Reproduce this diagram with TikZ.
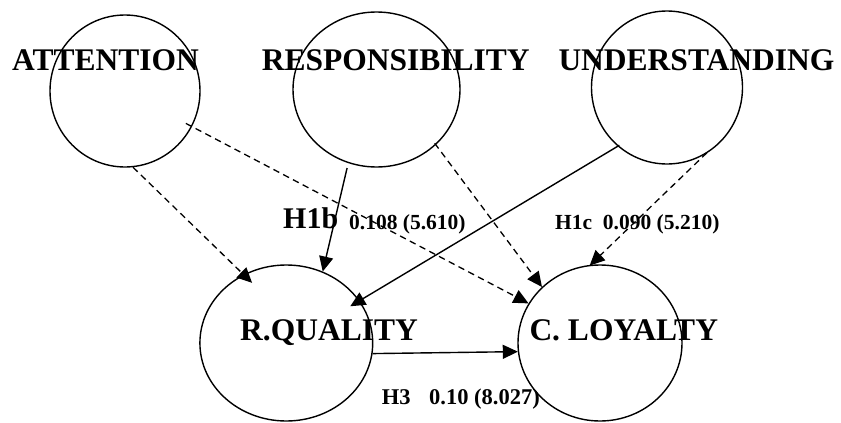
\documentclass[tikz,border=0pt]{standalone}
\usepackage{fontspec}
\setmainfont{Liberation Serif}
\usetikzlibrary{shapes.geometric,arrows.meta}
\begin{document}
\begin{tikzpicture}[x=1pt,y=-1pt,
  construct/.style={draw, ellipse, line width=1.4pt, inner sep=0pt},
  bigtext/.style={anchor=base west, inner sep=0pt, font=\fontsize{31.5}{36}\selectfont\bfseries},
  smalltext/.style={anchor=base west, inner sep=0pt, font=\fontsize{21.5}{25}\selectfont\bfseries},
  solidarrow/.style={line width=1.4pt, -{Triangle[length=15pt,width=14pt]}},
  dasharrow/.style={line width=1.3pt, dash pattern=on 6.5pt off 4.5pt, -{Triangle[length=15pt,width=14pt]}}
]
\useasboundingbox (0,0) rectangle (841,423);

% constructs
\node[construct, minimum width=150pt, minimum height=152pt] (att) at (125,91) {};
\node[construct, minimum width=167pt, minimum height=155pt] (resp) at (376.5,89.5) {};
\node[construct, minimum width=151pt, minimum height=153pt] (und) at (667,87.5) {};
\node[construct, minimum width=172.8pt, minimum height=156pt] (rq) at (286.3,343) {};
\node[construct, minimum width=164pt, minimum height=156pt] (cl) at (600,343) {};

% names
\node[bigtext] (tatt) at (12,70) {ATTENTION};
\node[bigtext] (tresp) at (261.7,70) {RESPONSIBILITY};
\node[bigtext] (tund) at (558.3,70) {UNDERSTANDING};
\node[bigtext] (trq) at (240,340) {R.QUALITY};
\node[bigtext] (tcl) at (529.3,340) {C. LOYALTY};

% labels
\node[anchor=base west, inner sep=0pt, font=\fontsize{30}{34}\selectfont\bfseries] (lh1b) at (283,228) {H1b};
\node[smalltext] (lh1bv) at (349,229) {0.108 (5.610)};
\node[smalltext] (lh1c) at (555,229) {H1c\ \ 0.090 (5.210)};
\node[anchor=base west, inner sep=0pt, font=\fontsize{22.5}{26}\selectfont\bfseries] (lh3) at (381.7,404) {H3\hspace{18.5pt}0.10 (8.027)};

% connectors
\draw[dasharrow, shorten >=-12pt] (att.-84) -- (rq.122);
\draw[dasharrow, shorten <=-7pt] (att.-28) -- (cl.151);
\draw[solidarrow, shorten <=5pt] (resp.-111) -- (rq.63);
\draw[dasharrow, shorten <=-2pt] (resp.-43) -- (cl.136);
\draw[solidarrow, shorten <=-2pt, shorten >=-11pt] (und.-130) -- (rq.30.5);
\draw[dasharrow, shorten <=-2pt, shorten >=-1pt] (und.-60) -- (cl.97);
\draw[solidarrow] (rq.-7) -- (cl.186);
\end{tikzpicture}
\end{document}
